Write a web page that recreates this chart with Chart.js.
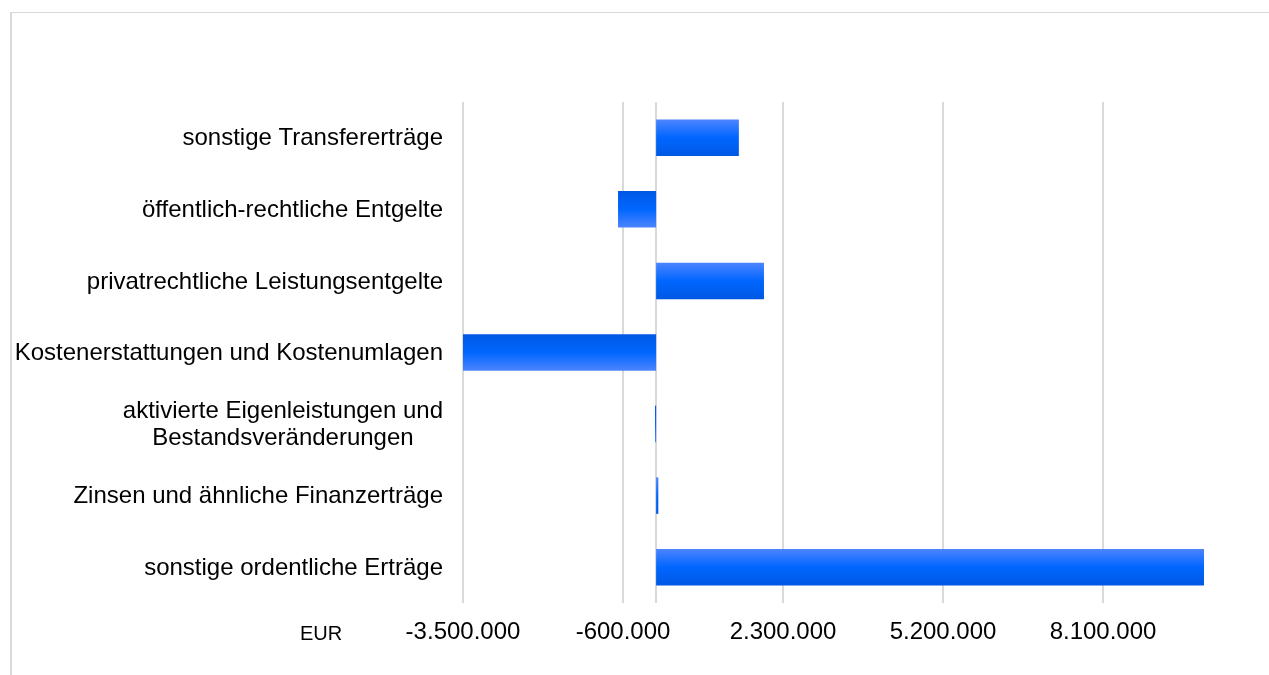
<!DOCTYPE html>
<html>
<head>
<meta charset="utf-8">
<script src="https://cdn.jsdelivr.net/npm/chart.js@4/dist/chart.umd.min.js"></script>
<style>
  html, body { margin: 0; padding: 0; background: #fff; }
  #wrap { position: relative; width: 1269px; height: 675px; overflow: hidden; }
  #frame { position: absolute; left: 10px; top: 12px; width: 1300px; height: 700px; border-left: 2px solid #d9d9d9; border-top: 1px solid #d9d9d9; }
  #chart { position: absolute; left: 0; top: 0; }
</style>
</head>
<body>
<div id="wrap">
  <div id="frame"></div>
  <canvas id="chart" width="1269" height="675"></canvas>
</div>
<script>
const categories = [
  'sonstige Transfererträge',
  'öffentlich-rechtliche Entgelte',
  'privatrechtliche Leistungsentgelte',
  'Kostenerstattungen und Kostenumlagen',
  ['aktivierte Eigenleistungen und', 'Bestandsveränderungen'],
  'Zinsen und ähnliche Finanzerträge',
  'sonstige ordentliche Erträge'
];
const values = [1500000, -690000, 1955000, -3500000, -20000, 40000, 9930000];
const tickValues = [-3500000, -600000, 2300000, 5200000, 8100000];
const axisMin = -3500000;
const axisMax = 9930000;
const unitLabel = 'EUR';

const gridColor = '#d9d9d9';
const fontFamily = 'Arial, "Liberation Sans", sans-serif';

function fmt(v) {
  const s = Math.abs(v).toString().replace(/\B(?=(\d{3})+(?!\d))/g, '.');
  return (v < 0 ? '-' : '') + s;
}

function barFill(ctx) {
  const chart = ctx.chart;
  const area = chart.chartArea;
  if (!area || ctx.type !== 'data') return '#0066ff';
  const y = chart.scales.y.getPixelForValue(ctx.dataIndex);
  const half = (area.bottom - area.top) / categories.length * 0.51 / 2;
  const g = chart.ctx.createLinearGradient(0, y - half, 0, y + half);
  const light = '#4d84ff', mid = '#0066ff', dark = '#0058e4';
  if (ctx.raw >= 0) {
    g.addColorStop(0, light); g.addColorStop(0.5, mid); g.addColorStop(1, dark);
  } else {
    g.addColorStop(0, dark); g.addColorStop(0.5, mid); g.addColorStop(1, light);
  }
  return g;
}

const extras = {
  id: 'extras',
  beforeDatasetsDraw(chart) {
    const c = chart.ctx, a = chart.chartArea;
    const x0 = Math.round(chart.scales.x.getPixelForValue(0));
    c.save();
    c.strokeStyle = gridColor;
    c.lineWidth = 2;
    c.beginPath();
    c.moveTo(x0, a.top);
    c.lineTo(x0, a.bottom);
    c.stroke();
    c.restore();
  },
  afterDraw(chart) {
    const c = chart.ctx, a = chart.chartArea, ys = chart.scales.y;
    c.save();
    c.fillStyle = '#000';
    c.font = '24px ' + fontFamily;
    c.textBaseline = 'middle';
    c.textAlign = 'center';
    const lineH = 27;
    categories.forEach((lab, i) => {
      const lines = Array.isArray(lab) ? lab : [lab];
      const maxW = Math.max(...lines.map(l => c.measureText(l).width));
      const cx = a.left - 20 - maxW / 2;
      const cy = ys.getPixelForValue(i) + 1;
      lines.forEach((l, j) => {
        c.fillText(l, cx, cy + (j - (lines.length - 1) / 2) * lineH);
      });
    });
    c.font = '20px ' + fontFamily;
    c.textAlign = 'left';
    c.fillText(unitLabel, 300, 634);
    c.restore();
  }
};

new Chart(document.getElementById('chart'), {
  type: 'bar',
  data: {
    labels: categories,
    datasets: [{
      data: values,
      backgroundColor: barFill,
      borderWidth: 0,
      categoryPercentage: 1,
      barPercentage: 0.51
    }]
  },
  options: {
    indexAxis: 'y',
    responsive: false,
    animation: false,
    layout: { padding: { top: 102, right: 65, left: 0, bottom: 0 } },
    plugins: { legend: { display: false }, tooltip: { enabled: false } },
    scales: {
      x: {
        min: axisMin,
        max: axisMax,
        afterBuildTicks: s => { s.ticks = tickValues.map(v => ({ value: v })); },
        afterFit: s => { s.height = 72; },
        grid: { color: gridColor, lineWidth: 2, drawTicks: false },
        border: { display: false },
        ticks: {
          color: '#000',
          font: { family: fontFamily, size: 24 },
          padding: 15,
          maxRotation: 0,
          callback: v => fmt(v)
        }
      },
      y: {
        afterFit: s => { s.width = 463; },
        grid: { display: false },
        border: { display: false },
        ticks: { display: false }
      }
    }
  },
  plugins: [extras]
});
</script>
</body>
</html>
